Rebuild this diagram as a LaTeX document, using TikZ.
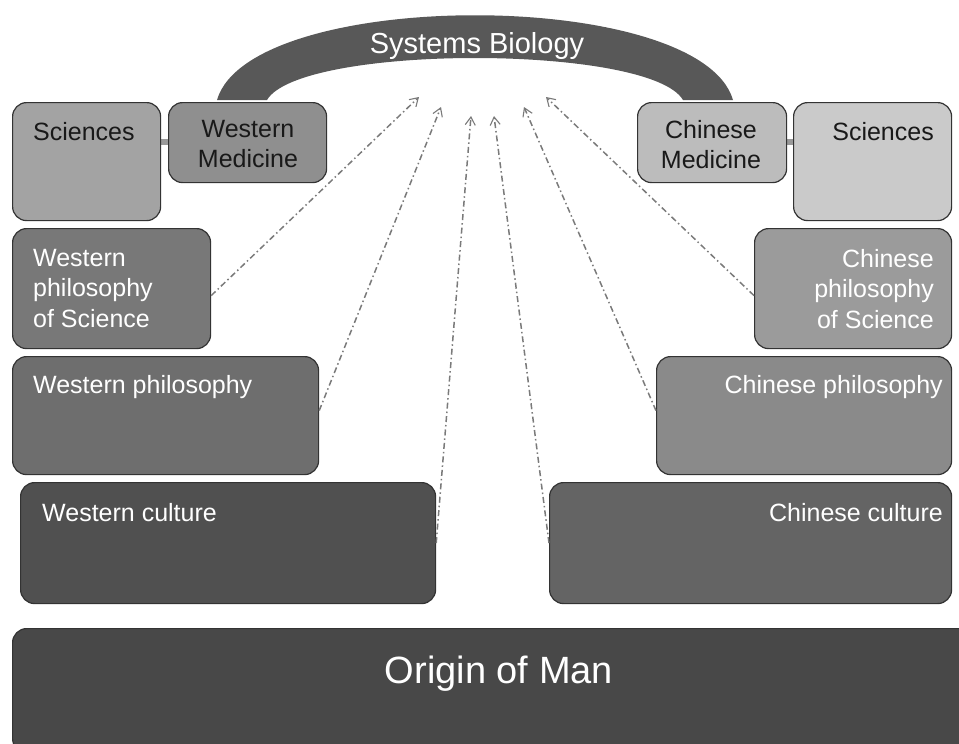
\documentclass[tikz,border=0pt]{standalone}
\usepackage{fontspec}
\setmainfont{Liberation Sans}
\usetikzlibrary{arrows.meta}
\definecolor{arcgray}{HTML}{585858}
\definecolor{sciL}{HTML}{A3A3A3}
\definecolor{wmed}{HTML}{8F8F8F}
\definecolor{wps}{HTML}{787878}
\definecolor{wp}{HTML}{6E6E6E}
\definecolor{wc}{HTML}{505050}
\definecolor{cc}{HTML}{646464}
\definecolor{cp}{HTML}{8A8A8A}
\definecolor{cps}{HTML}{9B9B9B}
\definecolor{cmed}{HTML}{BCBCBC}
\definecolor{sciR}{HTML}{CACACA}
\definecolor{origin}{HTML}{484848}
\definecolor{edge}{HTML}{333333}
\definecolor{dashgray}{HTML}{7A7A7A}
\tikzset{
  box/.style={draw=edge, line width=1.2pt, rounded corners=14pt, anchor=north west, inner sep=0pt},
  lbl/.style={font=\fontsize{25}{30.5}\selectfont, inner sep=0pt},
  dark/.style={lbl, text=black!90},
  light/.style={lbl, text=white},
  link/.style={draw=dashgray, line width=1.5pt, dash pattern=on 6pt off 3pt on 1.5pt off 3pt, -{Straight Barb[length=8pt,width=10pt,line width=1.1pt]}},
  bar/.style={draw=gray!80, line width=6pt}
}
\begin{document}
\begin{tikzpicture}[x=1pt,y=-1pt]
\useasboundingbox (0,0) rectangle (959,744);
% arc
\fill[arcgray] (217,100) .. controls (250,-13) and (700,-13) .. (733,100)
  -- (683,100) .. controls (650,44) and (300,44) .. (267,100) -- cycle;
\node[lbl, text=white, font=\fontsize{29}{31}\selectfont, anchor=base] (sb) at (477,53) {Systems Biology};
% connector bars
\draw[bar] (150,142) -- (178,142);
\draw[bar] (776,142) -- (803,142);
% boxes
\node[box, fill=sciL, minimum width=148pt, minimum height=118pt] (sl) at (12,102) {};
\node[box, fill=wmed, minimum width=158pt, minimum height=80pt] (wm) at (168,102) {};
\node[box, fill=wps, minimum width=198pt, minimum height=120pt] (wpsb) at (12,228) {};
\node[box, fill=wp, minimum width=306pt, minimum height=118pt] (wpb) at (12,356) {};
\node[box, fill=wc, minimum width=415pt, minimum height=121pt] (wcb) at (20,482) {};
\node[box, fill=cc, minimum width=402pt, minimum height=121pt] (ccb) at (549,482) {};
\node[box, fill=cp, minimum width=295pt, minimum height=118pt] (cpb) at (656,356) {};
\node[box, fill=cps, minimum width=197pt, minimum height=120pt] (cpsb) at (754,228) {};
\node[box, fill=cmed, minimum width=149pt, minimum height=80pt] (cm) at (637,102) {};
\node[box, fill=sciR, minimum width=158pt, minimum height=118pt] (sr) at (793,102) {};
\node[box, fill=origin, minimum width=960pt, minimum height=124pt] (om) at (12,628) {};
% texts
\node[dark, anchor=base west] (t1) at (33,140) {Sciences};
\node[dark, align=center, anchor=north] (t2) at (248,120) {Western\\Medicine};
\node[light, align=left, anchor=north west] (t3) at (33,249) {Western\\philosophy\\of Science};
\node[light, anchor=base west] (t4) at (33,393) {Western philosophy};
\node[light, anchor=base west] (t5) at (42,521) {Western culture};
\node[light, anchor=base east] (t6) at (943,521) {Chinese culture};
\node[light, anchor=base east] (t7) at (943,393) {Chinese philosophy};
\node[light, align=right, anchor=north east] (t8) at (934,249) {Chinese\\philosophy\\of Science};
\node[dark, align=center, anchor=north] (t9) at (711,120) {Chinese\\Medicine};
\node[dark, anchor=base east] (t10) at (934,140) {Sciences};
\node[lbl, text=white, font=\fontsize{38}{40}\selectfont, anchor=base] (t11) at (499,683) {Origin of Man};
% arrow tips
\coordinate (e1) at (419,97);
\coordinate (e2) at (441,107);
\coordinate (e3) at (471,116);
\coordinate (e4) at (494,116);
\coordinate (e5) at (524,107);
\coordinate (e6) at (546,97);
\draw[link] ([yshift=-7pt]wpsb.east) -- (e1);
\draw[link] ([yshift=5pt]wpb.east) -- (e2);
\draw[link] (wcb.east) -- (e3);
\draw[link] (ccb.west) -- (e4);
\draw[link] ([yshift=5pt]cpb.west) -- (e5);
\draw[link] ([yshift=-7pt]cpsb.west) -- (e6);
\end{tikzpicture}
\end{document}
